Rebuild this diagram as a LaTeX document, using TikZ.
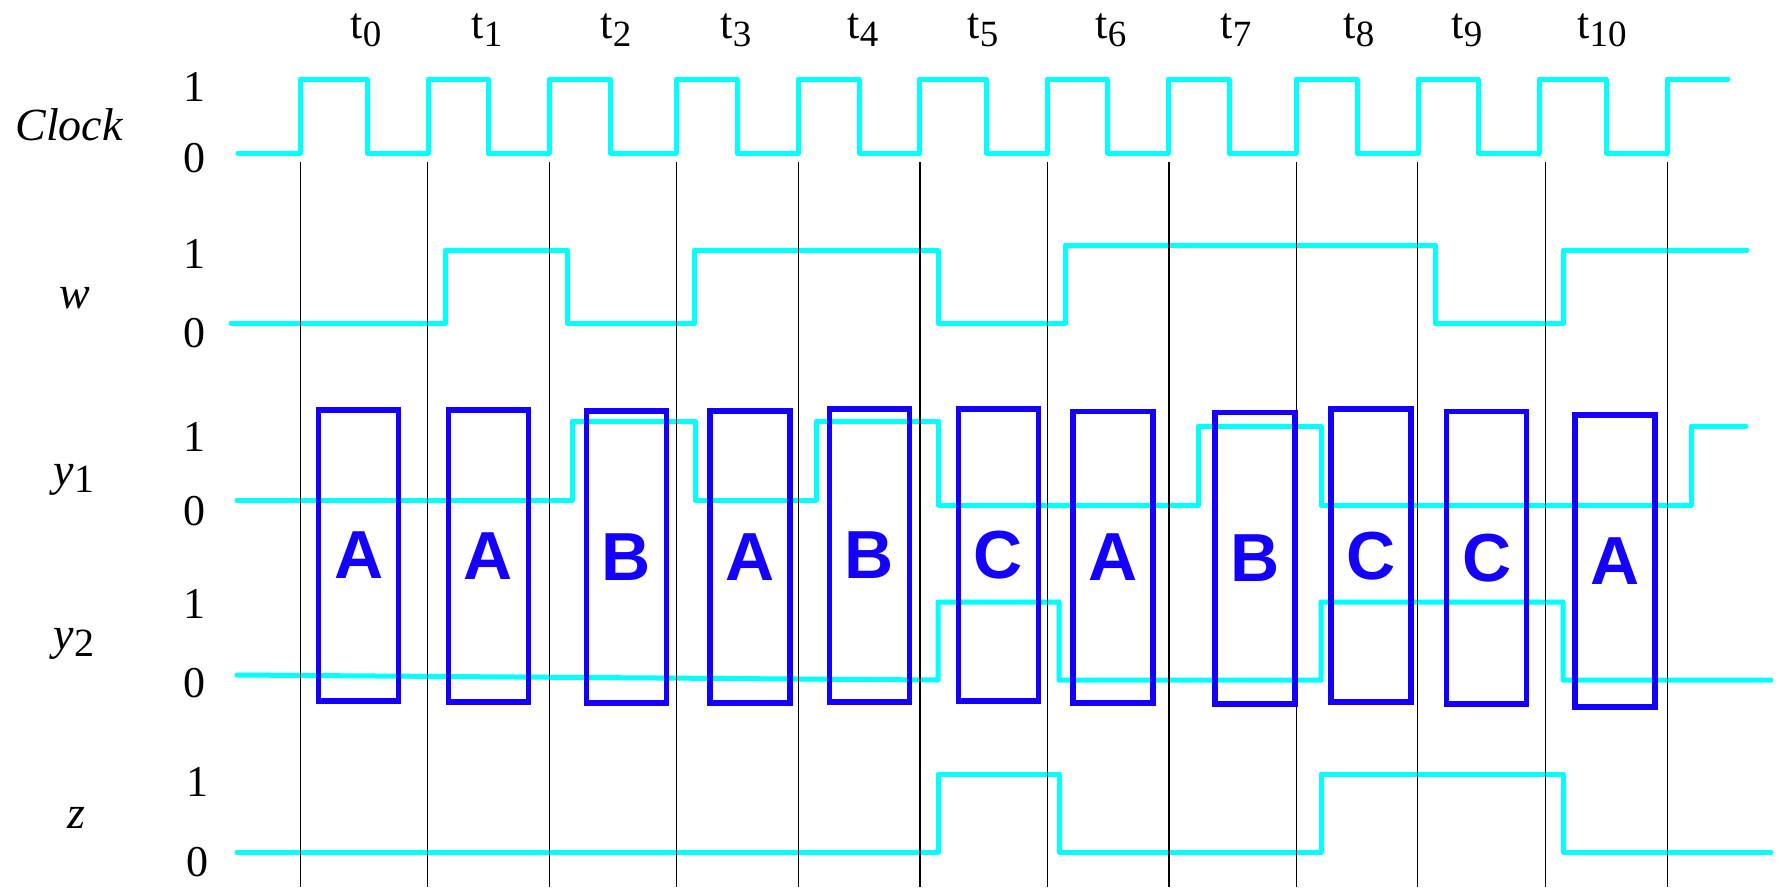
\documentclass[tikz,border=0pt]{standalone}
\usepackage{fontspec}
\setmainfont{Liberation Serif}
\setsansfont{Liberation Sans}
\definecolor{sigcyan}{RGB}{0,255,255}
\definecolor{boxblue}{RGB}{20,0,255}
\newcommand{\tlab}[1]{\fontsize{44}{48}\selectfont t\raisebox{-8pt}{\fontsize{37}{40}\selectfont #1}}
\newcommand{\ylab}[1]{\fontsize{46}{50}\selectfont\textit{y}\raisebox{-7pt}{\fontsize{40}{44}\selectfont #1}}
\tikzset{
  sig/.style={draw=sigcyan, line width=5pt, line cap=round, line join=round},
  gridl/.style={draw=black, line width=1.5pt},
  stbox/.style={draw=boxblue, line width=5.5pt, inner sep=0pt, minimum width=80pt, text=boxblue, font=\sffamily\bfseries\fontsize{68}{70}\selectfont},
  lvl/.style={inner sep=0pt, font=\fontsize{44}{48}\selectfont},
  signame/.style={inner sep=0pt, anchor=base, font=\itshape\fontsize{46}{50}\selectfont},
  tnode/.style={inner sep=0pt, anchor=base}
}
\begin{document}
\begin{tikzpicture}[x=1pt,y=-1pt]
\useasboundingbox (0,0) rectangle (1784,887);
% time labels
\foreach \cx/\k [count=\i] in {366/0,487/1,616/2,736/3,863/4,983/5,1111/6,1236/7,1359/8,1467/9,1602/10}
  \node[tnode] (t\i) at (\cx,38) {\tlab{\k}};
% signal names
\node[signame] (nclk) at (69,140) {Clock};
\node[signame] (nw) at (75,308) {w};
\node[inner sep=0pt, anchor=base] (ny1) at (74,485) {\ylab{1}};
\node[inner sep=0pt, anchor=base] (ny2) at (74,649) {\ylab{2}};
\node[signame] (nz) at (76.5,828) {z};
% level labels
\node[lvl] (c1) at (194,87) {1};
\node[lvl] (c0) at (194,158) {0};
\node[lvl] (w1) at (194,254) {1};
\node[lvl] (w0) at (194,333) {0};
\node[lvl] (ya1) at (194,437) {1};
\node[lvl] (ya0) at (194,511) {0};
\node[lvl] (yb1) at (194,604) {1};
\node[lvl] (yb0) at (194,683) {0};
\node[lvl] (z1) at (197,782) {1};
\node[lvl] (z0) at (197,862) {0};
% waveforms
\draw[sig] (238,153) -| (300,79) -| (367,153) -| (428,79) -| (488,153) -| (549,79) -| (610,153) -| (676,79) -| (737,153) -| (798,79) -| (859,153) -| (919,79) -| (986,153) -| (1047,79) -| (1107,153) -| (1168,79) -| (1229,153) -| (1296,79) -| (1357,153) -| (1418,79) -| (1478,153) -| (1539,79) -| (1606,153) -| (1667,79) -- (1728,79);
\draw[sig] (231,323) -| (445,250) -| (567,323) -| (694,250) -| (938,323) -| (1065,245) -| (1435,323) -| (1563,250) -- (1747,250);
\draw[sig] (237,500) -| (572,421) -| (695,500) -| (816,421) -| (938,505) -| (1198,426) -| (1321,505) -| (1691,426) -- (1746,426);
\draw[sig] (237,675) -- (938,680) |- (1059,602) |- (1321,680) |- (1563,602) |- (1771,680);
\draw[sig] (237,852) -| (938,774) -| (1059,852) -| (1321,774) -| (1563,852) -- (1771,852);
% clock edge lines
\foreach \x [count=\i] in {300.4,427.5,549.5,676.5,798.5,920,1047.5,1169,1296.5,1417.5,1545.5,1667.5}{
  \coordinate (gt\i) at (\x,162);
  \coordinate (gb\i) at (\x,887);
  \draw[gridl] (gt\i) -- (gb\i);
}
% state boxes
\foreach \cx/\cy/\h/\lt [count=\i] in {358.6/555.5/291/A, 488.5/555.9/291.7/A, 626.3/556.9/291.7/B, 749.9/556.9/291.7/A, 869.5/555.4/292.7/B, 998.3/555/292/C, 1113/557.2/291.1/A, 1254.8/558/291.5/B, 1371/555.6/292.8/C, 1486.7/557.7/292.2/C, 1614.9/561.1/292.2/A}
  \node[stbox, minimum height=\h pt] (b\i) at (\cx,\cy) {\lt};
\end{tikzpicture}
\end{document}
